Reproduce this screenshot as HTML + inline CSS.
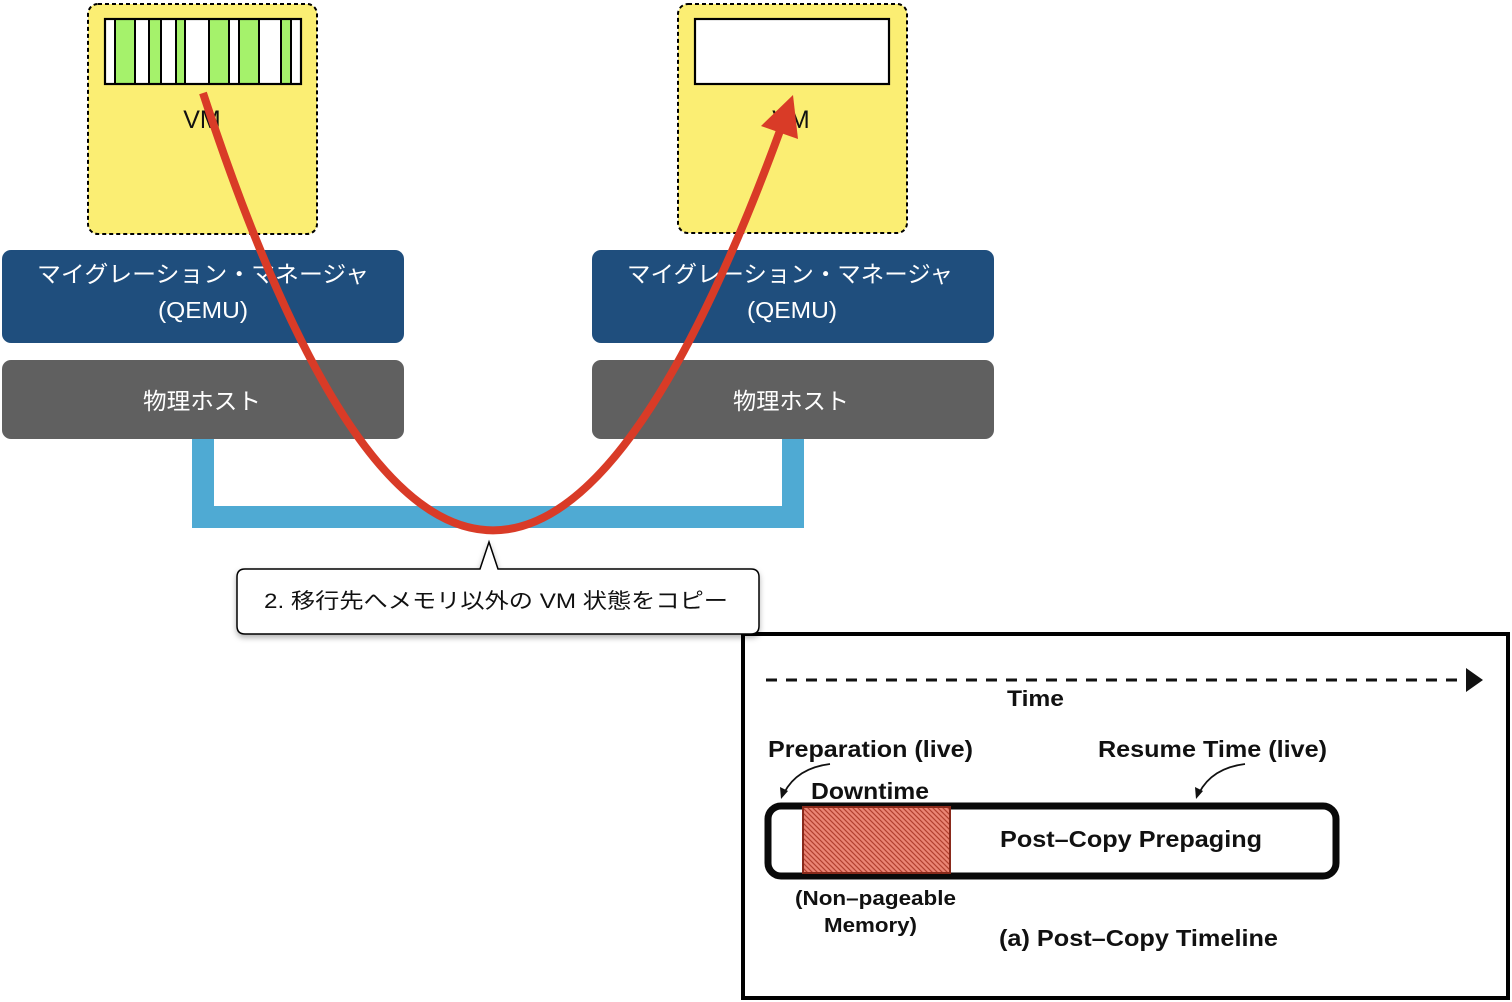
<!DOCTYPE html>
<html><head><meta charset="utf-8"><style>
html,body{margin:0;padding:0;background:#fff;}
svg{display:block;}
.jp{font-family:"Liberation Sans","Noto Sans CJK JP",sans-serif;}
.b{font-family:"Liberation Sans",Arial,sans-serif;font-weight:bold;fill:#111;}
</style></head><body>
<svg width="1512" height="1002" viewBox="0 0 1512 1002" xmlns="http://www.w3.org/2000/svg">
<defs>
<pattern id="hatch" patternUnits="userSpaceOnUse" width="5" height="5">
<rect width="5" height="5" fill="#ea8574"/>
<path d="M-1,-1 L6,6 M-1,4 L1,6 M4,-1 L6,1" stroke="#b2402f" stroke-width="1.2"/>
</pattern>
<filter id="sh" x="-10%" y="-30%" width="120%" height="170%">
<feDropShadow dx="0" dy="3" stdDeviation="3" flood-color="#000" flood-opacity="0.3"/>
</filter>
</defs>

<!-- Yellow VM boxes -->
<rect x="88" y="4" width="229" height="230" rx="10" fill="#fbee73" stroke="#000" stroke-width="2" stroke-dasharray="4 3"/>
<rect x="678" y="4" width="229" height="229" rx="10" fill="#fbee73" stroke="#000" stroke-width="2" stroke-dasharray="4 3"/>

<!-- left memory bar -->
<rect x="105" y="19" width="196" height="65" fill="#fff"/>
<g fill="#a5f26b">
<rect x="115" y="19" width="20" height="65"/>
<rect x="149" y="19" width="12" height="65"/>
<rect x="176" y="19" width="9" height="65"/>
<rect x="209" y="19" width="20" height="65"/>
<rect x="239" y="19" width="20" height="65"/>
<rect x="281" y="19" width="10" height="65"/>
</g>
<g stroke="#000" stroke-width="2">
<line x1="115" y1="19" x2="115" y2="84"/><line x1="135" y1="19" x2="135" y2="84"/>
<line x1="149" y1="19" x2="149" y2="84"/><line x1="161" y1="19" x2="161" y2="84"/>
<line x1="176" y1="19" x2="176" y2="84"/><line x1="185" y1="19" x2="185" y2="84"/>
<line x1="209" y1="19" x2="209" y2="84"/><line x1="229" y1="19" x2="229" y2="84"/>
<line x1="239" y1="19" x2="239" y2="84"/><line x1="259" y1="19" x2="259" y2="84"/>
<line x1="281" y1="19" x2="281" y2="84"/><line x1="291" y1="19" x2="291" y2="84"/>
</g>
<rect x="105" y="19" width="196" height="65" fill="none" stroke="#000" stroke-width="2.2"/>
<!-- right memory bar -->
<rect x="695" y="19" width="194" height="65" fill="#fff" stroke="#000" stroke-width="2.2"/>

<text x="202" y="128" font-family="Liberation Sans,sans-serif" font-size="25" text-anchor="middle" fill="#111">VM</text>
<text x="791" y="128" font-family="Liberation Sans,sans-serif" font-size="25" text-anchor="middle" fill="#111">VM</text>

<!-- blue connector -->
<path d="M192,430 V528 H804 V430 H782 V506 H214 V430 Z" fill="#4faad3"/>

<!-- blue manager boxes -->
<rect x="2" y="250" width="402" height="93" rx="9" fill="#1f4e7d"/>
<rect x="592" y="250" width="402" height="93" rx="9" fill="#1f4e7d"/>
<g class="jp" fill="#fff" font-size="23">
<text x="37" y="282" textLength="332" lengthAdjust="spacingAndGlyphs">マイグレーション・マネージャ</text>
<text x="627" y="282" textLength="326" lengthAdjust="spacingAndGlyphs">マイグレーション・マネージャ</text>
<text x="158" y="318" textLength="90" lengthAdjust="spacingAndGlyphs">(QEMU)</text>
<text x="747" y="318" textLength="90" lengthAdjust="spacingAndGlyphs">(QEMU)</text>
</g>

<!-- gray host boxes -->
<rect x="2" y="360" width="402" height="79" rx="9" fill="#606060"/>
<rect x="592" y="360" width="402" height="79" rx="9" fill="#606060"/>
<g class="jp" fill="#fff" font-size="23">
<text x="143" y="409" textLength="118" lengthAdjust="spacingAndGlyphs">物理ホスト</text>
<text x="733" y="409" textLength="116" lengthAdjust="spacingAndGlyphs">物理ホスト</text>
</g>

<!-- red curve -->
<path d="M203,93 C390,663 580,677 781,128" fill="none" stroke="#d93b27" stroke-width="8"/>
<polygon points="793,95 761,126 798,139" fill="#d93b27"/>

<!-- Post-copy image frame -->
<rect x="743" y="634" width="765" height="364" fill="#fff" stroke="#000" stroke-width="4"/>
<line x1="766" y1="680" x2="1466" y2="680" stroke="#111" stroke-width="3" stroke-dasharray="11 9"/>
<polygon points="1466,668 1483,680 1466,692" fill="#111"/>
<text class="b" x="1007" y="706" font-size="22" textLength="57" lengthAdjust="spacingAndGlyphs">Time</text>
<text class="b" x="768" y="757" font-size="23" textLength="205" lengthAdjust="spacingAndGlyphs">Preparation (live)</text>
<text class="b" x="1098" y="757" font-size="23" textLength="229" lengthAdjust="spacingAndGlyphs">Resume Time (live)</text>
<path d="M830,764 Q797,768 784,793" fill="none" stroke="#111" stroke-width="1.8"/>
<polygon points="781,799 780,787 788,791" fill="#111"/>
<path d="M1245,764 Q1212,768 1199,793" fill="none" stroke="#111" stroke-width="1.8"/>
<polygon points="1196,799 1195,787 1203,791" fill="#111"/>
<text class="b" x="811" y="799" font-size="23" textLength="118" lengthAdjust="spacingAndGlyphs">Downtime</text>
<rect x="768" y="806" width="568" height="70" rx="13" fill="#fff" stroke="#0a0a0a" stroke-width="7"/>
<rect x="803" y="807" width="147" height="66" fill="url(#hatch)" stroke="#8a2a1b" stroke-width="2"/>
<text class="b" x="1000" y="847" font-size="23" textLength="262" lengthAdjust="spacingAndGlyphs">Post–Copy Prepaging</text>
<text class="b" x="795" y="905" font-size="20" textLength="161" lengthAdjust="spacingAndGlyphs">(Non–pageable</text>
<text class="b" x="824" y="932" font-size="20" textLength="93" lengthAdjust="spacingAndGlyphs">Memory)</text>
<text class="b" x="999" y="946" font-size="23" textLength="279" lengthAdjust="spacingAndGlyphs">(a) Post–Copy Timeline</text>

<!-- callout -->
<g filter="url(#sh)">
<path d="M245,569 H480 L489,542 L498,569 H751 Q759,569 759,577 V626 Q759,634 751,634 H245 Q237,634 237,626 V577 Q237,569 245,569 Z" fill="#fff" stroke="#000" stroke-width="1.5"/>
</g>
<text class="jp" x="264" y="608" font-size="21" fill="#111" textLength="464" lengthAdjust="spacingAndGlyphs">2. 移行先へメモリ以外の VM 状態をコピー</text>
</svg>
</body></html>
